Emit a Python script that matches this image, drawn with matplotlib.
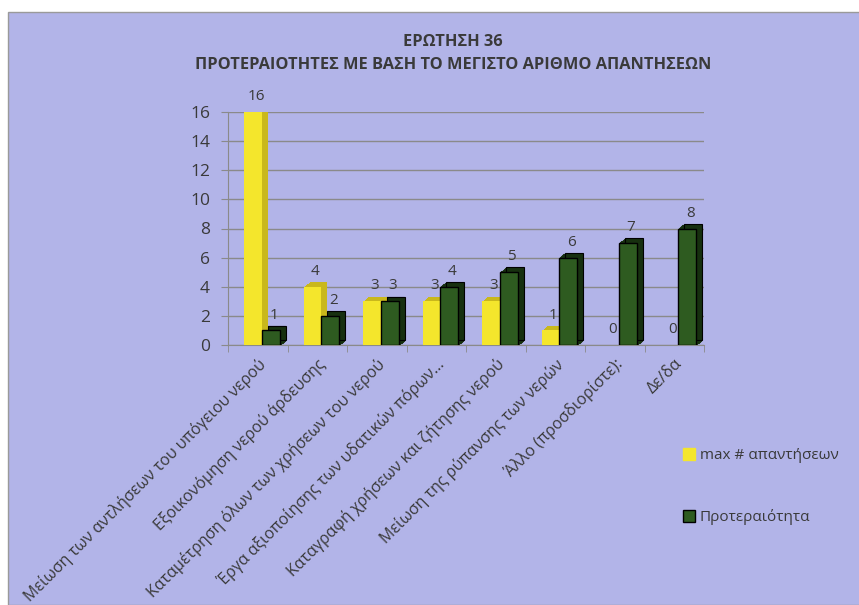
import numpy as np
import matplotlib.pyplot as plt
from matplotlib.patches import Rectangle
from matplotlib.transforms import ScaledTranslation

plt.rcParams['font.family'] = ['Open Sans', 'DejaVu Sans']

# données
categories = [
    "Μείωση των αντλήσεων του υπόγειου νερού",
    "Εξοικονόμηση νερού άρδευσης",
    "Καταμέτρηση όλων των χρήσεων του νερού",
    "Έργα αξιοποίησης των υδατικών πόρων...",
    "Καταγραφή χρήσεων και ζήτησης νερού",
    "Μείωση της ρύπανσης των νερών",
    "Άλλο (προσδιορίστε):",
    "Δε/δα",
]
max_apantiseon = [16, 4, 3, 3, 3, 1, 0, 0]
proteraiotita = [1, 2, 3, 4, 5, 6, 7, 8]
legende = ["max # απαντήσεων", "Προτεραιότητα"]
titre = "ΕΡΩΤΗΣΗ 36\nΠΡΟΤΕΡΑΙΟΤΗΤΕΣ ΜΕ ΒΑΣΗ ΤΟ ΜΕΓΙΣΤΟ ΑΡΙΘΜΟ ΑΠΑΝΤΗΣΕΩΝ"

fond = "#b2b4e8"
texte = "#3a3a3a"
jaune, jaune_cote = "#f4e62c", "#c9b81c"
vert, vert_cote = "#2e5b20", "#17300f"

fig = plt.figure(figsize=(8.59, 6.05), dpi=100)
fig.patch.set_facecolor("white")
fig.patches.append(Rectangle((8 / 859, 0), 1, 1 - 12 / 605, transform=fig.transFigure,
                             facecolor=fond, edgecolor="#9a9a9a", lw=1, zorder=-5))

ax = fig.add_axes([228 / 859, 1 - 345 / 605, 476 / 859, 233 / 605])
ax.set_facecolor("none")

x = np.arange(len(categories))
w = 0.3
xj = x - 0.08
xv = x + 0.22

# effet de profondeur : copies décalées vers le haut à droite
for k in range(1, 7):
    off = ax.transData + ScaledTranslation(k / 100, k * 0.8 / 100, fig.dpi_scale_trans)
    ax.bar(xj, max_apantiseon, w, color=jaune_cote, transform=off, zorder=2)
    ax.bar(xv, proteraiotita, w, color=vert_cote, transform=off, zorder=2,
           edgecolor="black" if k == 6 else vert_cote, lw=0.8)

ax.bar(xj, max_apantiseon, w, color=jaune, zorder=3)
ax.bar(xv, proteraiotita, w, color=vert, edgecolor="black", lw=1, zorder=3)

lab_off = ax.transData + ScaledTranslation(0.03, 0.05, fig.dpi_scale_trans)
for i in range(len(categories)):
    ax.text(xj[i], max_apantiseon[i] + 0.2, str(max_apantiseon[i]), ha="center", va="bottom",
            fontsize=11, color=texte, transform=lab_off, zorder=4)
    ax.text(xv[i], proteraiotita[i] + 0.2, str(proteraiotita[i]), ha="center", va="bottom",
            fontsize=11, color=texte, transform=lab_off, zorder=4)

ax.set_xlim(-0.5, len(categories) - 0.5)
ax.set_ylim(0, 16)
ax.set_yticks(range(0, 17, 2))
ax.set_xticks(x)
ax.set_xticklabels(categories, rotation=45, ha="right", va="top",
                   rotation_mode="anchor", fontsize=11.5, color=texte)
for lab in ax.get_xticklabels():
    lab.set_transform(lab.get_transform() + ScaledTranslation(0.03, 0, fig.dpi_scale_trans))
ax.set_xticks(np.arange(len(categories) + 1) - 0.5, minor=True)
ax.tick_params(axis="x", which="major", length=0, pad=8)
ax.tick_params(axis="x", which="minor", length=5, color="#8a8a8a")
ax.tick_params(axis="y", labelsize=12.5, labelcolor=texte, color="#8a8a8a", length=5, pad=8)
ax.yaxis.grid(True, color="#8a8a8a", lw=1)
ax.set_axisbelow(True)
for s in ["top", "right"]:
    ax.spines[s].set_visible(False)
for s in ["left", "bottom"]:
    ax.spines[s].set_color("#8a8a8a")

fig.text(453 / 859, 1 - 34 / 605, titre, ha="center", va="top", fontsize=11.8,
         fontweight="bold", color=texte, linespacing=1.55)

poignees = [Rectangle((0, 0), 1, 1, facecolor=jaune, edgecolor=jaune),
            Rectangle((0, 0), 1, 1, facecolor=vert, edgecolor="black")]
fig.legend(poignees, legende, loc="upper left", bbox_to_anchor=(683 / 859, 1 - 448 / 605),
           frameon=False, fontsize=11, labelcolor=texte, handlelength=0.8, handleheight=0.8,
           handletextpad=0.3, labelspacing=3.0, borderaxespad=0, borderpad=0)

fig.savefig("out.png", dpi=100, facecolor=fig.get_facecolor())
